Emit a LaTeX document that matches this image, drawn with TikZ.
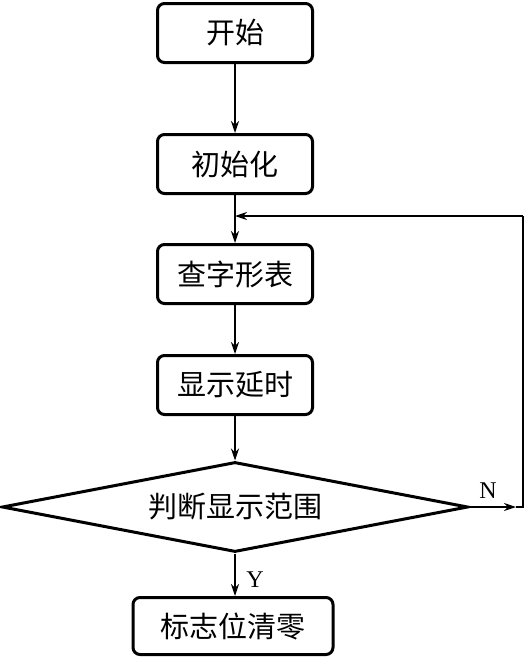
\documentclass[tikz,border=0pt]{standalone}
\usepackage{fontspec}
\newfontfamily\cjk{Noto Sans CJK SC}
\setmainfont{Liberation Serif}
\usetikzlibrary{shapes.geometric,arrows.meta}
\begin{document}
\begin{tikzpicture}[x=1pt,y=-1pt,
  procbox/.style={draw,line width=3pt,rounded corners=7pt,minimum width=155pt,minimum height=59pt,inner sep=0pt,font=\cjk\fontsize{29}{32}\selectfont},
  decbox/.style={draw,diamond,shape aspect=5.2,line width=3pt,minimum width=466pt,minimum height=90pt,inner sep=0pt,font=\cjk\fontsize{29}{32}\selectfont},
  conn/.style={line width=1.4pt,-{Stealth[length=12pt,width=8pt,inset=4pt]}},
  plain/.style={line width=1.4pt},
  lbl/.style={font=\fontsize{24}{26}\selectfont,inner sep=0pt}]
\useasboundingbox (0,0) rectangle (526,659);
\node[procbox] (start) at (235,33) {开始};
\node[procbox] (init) at (235,164) {初始化};
\node[procbox] (look) at (235,274) {查字形表};
\node[procbox] (delay) at (235,385) {显示延时};
\node[decbox] (dec) at (235,507) {判断显示范围};
\node[procbox,minimum width=200pt,minimum height=57pt] (clr) at (233,626) {标志位清零};
\coordinate (join) at (235,216);
\coordinate (narr) at (516,507);
\coordinate (c1) at (523,507);
\coordinate (c2) at (523,216);
\draw[conn] (start.south) -- (init.north);
\draw[conn] (init.south) -- (look.north);
\draw[conn] (look.south) -- (delay.north);
\draw[conn] (delay.south) -- (dec.north);
\draw[conn] (dec.south) -- (dec.south |- clr.north);
\draw[conn] (dec.east) -- (narr);
\draw[plain] (narr) -- (c1) -- (c2);
\draw[conn] (c2) -- (join);
\node[lbl] (nlab) at (488,491) {N};
\node[lbl] (ylab) at (255,580) {Y};
\end{tikzpicture}
\end{document}
